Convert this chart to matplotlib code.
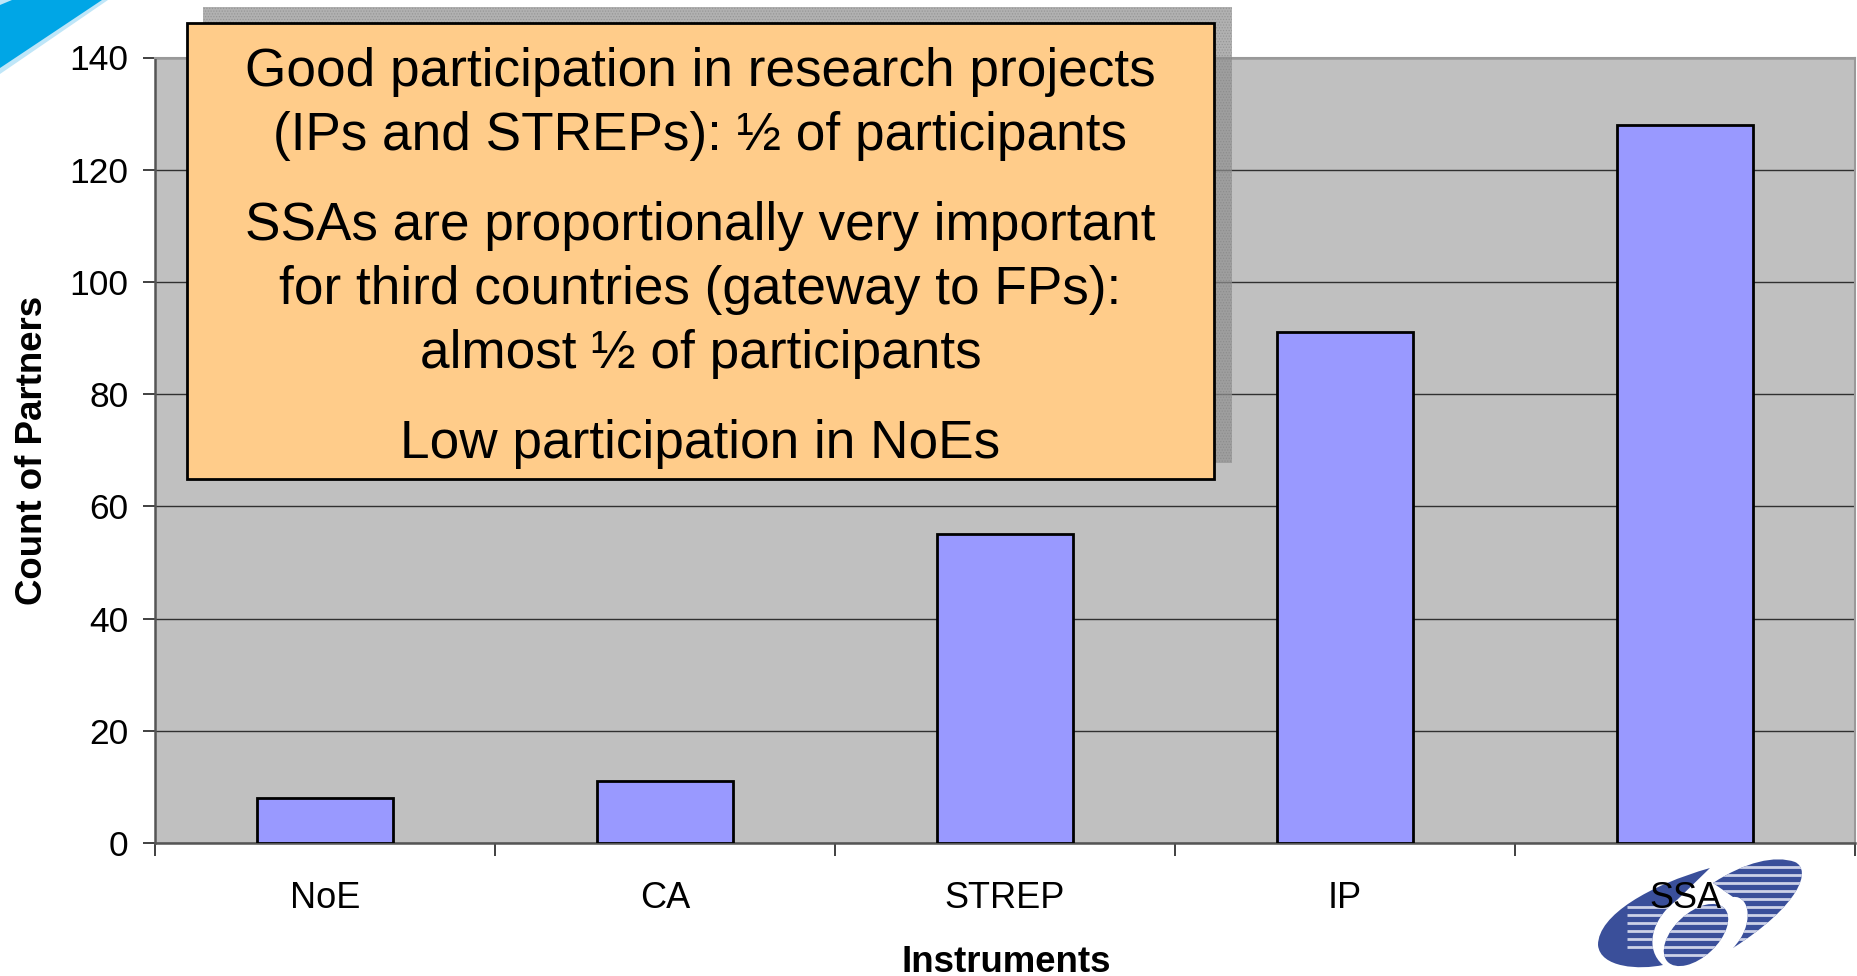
import numpy as np
import matplotlib
matplotlib.use("Agg")
import matplotlib.pyplot as plt
from matplotlib.patches import Rectangle, Polygon, Ellipse, PathPatch
from matplotlib.path import Path

categories = ["NoE", "CA", "STREP", "IP", "SSA"]
partners = [8, 11, 55, 91, 128]
y_ticks = [0, 20, 40, 60, 80, 100, 120, 140]
box_lines = [
    "Good participation in research projects",
    "(IPs and STREPs): ½ of participants",
    "SSAs are proportionally very important",
    "for third countries (gateway to FPs):",
    "almost ½ of participants",
    "Low participation in NoEs",
]
box_line_y = [72, 136, 226, 290, 354, 444]

W, H = 1858, 976
plt.rcParams["font.family"] = ["Liberation Sans", "DejaVu Sans"]
plt.rcParams["hatch.linewidth"] = 0.6
fig = plt.figure(figsize=(W / 100, H / 100), dpi=100, facecolor="white")

# decorations underneath the chart
under = fig.add_axes([0, 0, 1, 1], zorder=0)
under.set_xlim(0, W); under.set_ylim(H, 0); under.axis("off")
under.add_patch(Polygon([(0, 0), (108, 0), (0, 74)], closed=True, fc="#bfe6f8", ec="none"))
under.add_patch(Polygon([(0, 5), (12, 0), (102, 0), (0, 68)], closed=True, fc="#00a6e6", ec="none"))

LOGO = "#3a4f9a"
STRIPE = "#cdd2e8"
C4 = Path.CURVE4
crescent = Path([(1710, 868), (1650, 885), (1598, 915), (1598, 945),
                 (1600, 968), (1640, 970), (1663, 965),
                 (1645, 950), (1650, 920), (1677, 900),
                 (1710, 868)],
                [Path.MOVETO, C4, C4, C4, C4, C4, C4, C4, C4, C4, Path.LINETO])
upper = Path([(1713, 883), (1745, 862), (1775, 855), (1795, 862),
              (1812, 870), (1800, 905), (1733, 948),
              (1755, 925), (1750, 895), (1733, 897),
              (1713, 883)],
             [Path.MOVETO, C4, C4, C4, C4, C4, C4, C4, C4, C4, Path.LINETO])
mid = Ellipse((1696, 935), 44, 78, angle=47, fc=LOGO, ec="none")
shapes = [PathPatch(crescent, fc=LOGO, ec="none"),
          PathPatch(upper, fc=LOGO, ec="none"), mid]
for s in shapes:
    under.add_patch(s)
for y in np.arange(867, 958, 8):
    for s in shapes[1:]:
        ln, = under.plot([1660, 1815], [y, y], color=STRIPE, lw=2.0, solid_capstyle="butt")
        ln.set_clip_path(s)
for y in np.arange(907, 950, 8):
    ln, = under.plot([1627, 1670], [y, y], color=STRIPE, lw=2.0, solid_capstyle="butt")
    ln.set_clip_path(shapes[0])

# chart
L, R, T, B = 155, 1855, 57.5, 843
ax = fig.add_axes([L / W, 1 - B / H, (R - L) / W, (B - T) / H], zorder=1)
ax.set_facecolor("#c0c0c0")
x = np.arange(len(categories))
ax.bar(x, partners, width=0.4, color="#9999ff", edgecolor="black", linewidth=2, zorder=3)
ax.set_xlim(-0.5, len(categories) - 0.5)
ax.set_ylim(0, 140)
ax.set_yticks(y_ticks)
ax.yaxis.grid(True, color="#303030", lw=1)
ax.set_axisbelow(True)
ax.set_xticks(np.arange(len(categories) + 1) - 0.5)
ax.set_xticklabels([])
ax.set_xticks(x, minor=True)
ax.set_xticklabels(categories, minor=True)
ax.tick_params(axis="x", which="major", length=9, width=1.2, color="#202020")
ax.tick_params(axis="x", which="minor", length=0, pad=27, labelsize=26)
ax.tick_params(axis="y", length=9, width=1.2, color="#202020", labelsize=25.5, pad=10)
for side in ("top", "right"):
    ax.spines[side].set_color("#999999")
    ax.spines[side].set_linewidth(1.5)
for side in ("left", "bottom"):
    ax.spines[side].set_color("#555555")
    ax.spines[side].set_linewidth(1.8)
fig.text(1006 / W, 1 - 962 / H, "Instruments", ha="center", va="center", fontsize=26.4, fontweight="bold")
fig.text(33 / W, 1 - 450 / H, "Count of Partners", ha="center", va="center", rotation=90, fontsize=26.4, fontweight="bold")

# callout on top of the chart
over = fig.add_axes([0, 0, 1, 1], zorder=2)
over.set_xlim(0, W); over.set_ylim(H, 0); over.axis("off")
over.add_patch(Rectangle((203, 7), 1029, 456, fc="#909090", ec="none", alpha=0.7))
over.add_patch(Rectangle((203, 7), 1029, 456, fc="none", ec="#808080", hatch="......", lw=0, alpha=0.5))
over.add_patch(Rectangle((187, 23), 1027, 456, fc="#ffcc8a", ec="black", lw=2))
for line, yy in zip(box_lines, box_line_y):
    over.text(700.5, yy, line, ha="center", va="center", fontsize=38.25, color="black")

fig.savefig("out.png", dpi=100)
